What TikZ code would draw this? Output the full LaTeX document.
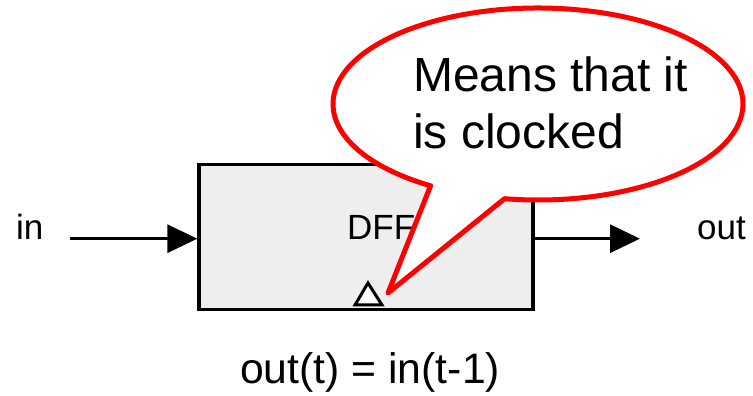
\documentclass[tikz,border=0pt]{standalone}
\usepackage{fontspec}
\setmainfont{Liberation Sans}
\usetikzlibrary{arrows.meta,calc}
\definecolor{boxgray}{HTML}{EEEEEE}
\definecolor{callred}{HTML}{FF0000}
\tikzset{
  x=1pt,y=1pt,
  dffbox/.style={draw=black,fill=boxgray,line width=3.4pt,rectangle,minimum width=334pt,minimum height=145pt,inner sep=0pt},
  wire/.style={draw=black,line width=3.2pt,-{Triangle[length=30pt,width=28pt]},shorten >=0pt},
  lab/.style={inner sep=0pt,anchor=base west,font=\fontsize{35}{40}\selectfont},
  calltext/.style={inner sep=0pt,anchor=base west,font=\fontsize{48}{56}\selectfont},
  clockmark/.style={draw=black,fill=white,line width=3pt,line join=miter},
  bubble/.style={draw=callred,fill=white,line width=5pt,line join=round}
}
\begin{document}
\begin{tikzpicture}
\useasboundingbox (0,0) rectangle (753,396);
\node[dffbox] (dff) at (366,159) {};
\node[lab] (inlab) at (16,156.5) {in};
\node[lab] (outlab) at (697,156.5) {out};
\node[lab] (dfflab) at (347,156.5) {DFF};
\coordinate (instart) at (70,157.3);
\coordinate (outend) at (640,157.3);
\draw[wire] (instart) -- (dff.west |- instart);
\draw[wire] (dff.east |- outend) -- (outend);
\coordinate (clkA) at (368,113);
\coordinate (clkB) at (355,91);
\coordinate (clkC) at (382,91);
\draw[clockmark] (clkA) -- (clkB) -- (clkC) -- cycle;
\coordinate (bubc) at (538,292);
\coordinate (tip) at (388,103);
\draw[bubble] (bubc) ++(260.6:205 and 96) arc[start angle=260.6,end angle=598.4,x radius=205,y radius=96] -- (tip) -- cycle;
\node[calltext] (line1) at (413,304) {Means that it};
\node[calltext] (line2) at (413,247) {is clocked};
\node[inner sep=0pt,anchor=base west,font=\fontsize{42.7}{48}\selectfont] (eqn) at (240,12.5) {out(t) = in(t-1)};
\end{tikzpicture}
\end{document}
